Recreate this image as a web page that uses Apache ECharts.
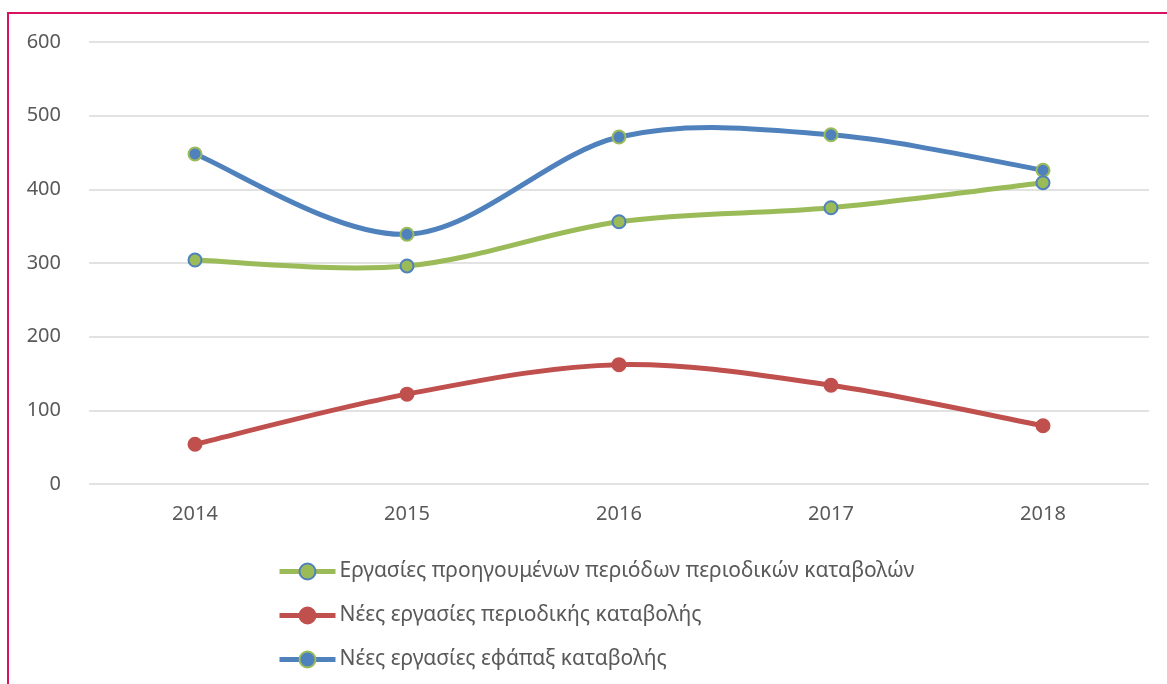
<!DOCTYPE html>
<html>
<head>
<meta charset="utf-8">
<script src="https://cdn.jsdelivr.net/npm/echarts@6/dist/echarts.min.js"></script>
<style>
html,body{margin:0;padding:0;background:#fff;overflow:hidden;}
#frame{position:absolute;left:7px;top:12px;width:1200px;height:720px;border:2px solid #D8125E;box-sizing:border-box;}
#chart{position:absolute;left:0;top:0;width:1167px;height:684px;}
</style>
</head>
<body>
<div id="frame"></div>
<div id="chart"></div>
<script>
const categories = ['2014', '2015', '2016', '2017', '2018'];
const seriesNames = [
  'Εργασίες προηγουμένων περιόδων περιοδικών καταβολών',
  'Νέες εργασίες περιοδικής καταβολής',
  'Νέες εργασίες εφάπαξ καταβολής'
];
const previousPeriods = [304, 296, 356, 375, 409];
const newPeriodic = [54, 122, 162, 134, 79];
const newLumpSum = [448, 339, 471, 474, 426];
const yTicks = [0, 100, 200, 300, 400, 500, 600];

const GREEN = '#9BBB59', RED = '#C0504D', BLUE = '#4F81BD';
const FONT = 'Noto Sans';
const chart = echarts.init(document.getElementById('chart'));

// Smooth curve (Excel-like Catmull-Rom Bezier) drawn through the chart's own scales
function curve(id, values, color) {
  return {
    id, name: id, type: 'custom', z: 2,
    data: values.map((v, i) => [i, v]),
    encode: { x: 0, y: 1 },
    silent: true,
    renderItem(params, api) {
      if (params.dataIndex !== 0) return null;
      const p = values.map((v, i) => api.coord([i, v]));
      const n = p.length;
      const P = (k) => p[Math.max(0, Math.min(n - 1, k))];
      let d = 'M' + p[0][0] + ' ' + p[0][1];
      for (let i = 0; i < n - 1; i++) {
        const a = P(i - 1), b = P(i), c = P(i + 1), e = P(i + 2);
        const c1 = [b[0] + (c[0] - a[0]) / 6, b[1] + (c[1] - a[1]) / 6];
        const c2 = [c[0] - (e[0] - b[0]) / 6, c[1] - (e[1] - b[1]) / 6];
        d += ' C' + c1[0] + ' ' + c1[1] + ' ' + c2[0] + ' ' + c2[1] + ' ' + c[0] + ' ' + c[1];
      }
      return {
        type: 'path', shape: { pathData: d },
        style: { fill: null, stroke: color, lineWidth: 5, lineCap: 'round', lineJoin: 'round' }
      };
    }
  };
}
function markers(name, data, fill, border) {
  return {
    name, type: 'line', data, z: 3,
    symbol: 'circle', symbolSize: 13,
    lineStyle: { width: 0, opacity: 0 },
    itemStyle: { color: fill, borderColor: border, borderWidth: 2 },
    emphasis: { disabled: true }
  };
}
chart.setOption({
  animation: false,
  grid: { left: 89, right: 18, top: 42, bottom: 200, containLabel: false },
  xAxis: {
    type: 'category', data: categories, boundaryGap: true,
    axisLine: { show: false }, axisTick: { show: false },
    axisLabel: { color: '#595959', fontSize: 20, fontFamily: FONT, margin: 20 }
  },
  yAxis: {
    type: 'value', min: yTicks[0], max: yTicks[yTicks.length - 1], interval: 100,
    axisLine: { show: false }, axisTick: { show: false },
    axisLabel: { color: '#595959', fontSize: 20, fontFamily: FONT, margin: 28 },
    splitLine: { lineStyle: { color: '#D9D9D9', width: 1.5 } }
  },
  legend: {
    orient: 'vertical', left: 272, top: 556,
    itemWidth: 56, itemHeight: 20, itemGap: 23,
    textStyle: { color: '#595959', fontSize: 21, fontFamily: FONT, padding: [0, 0, 0, -1] },
    data: [
      { name: seriesNames[0], lineStyle: { color: GREEN, width: 5, opacity: 1 } },
      { name: seriesNames[1], lineStyle: { color: RED, width: 5, opacity: 1 } },
      { name: seriesNames[2], lineStyle: { color: BLUE, width: 5, opacity: 1 } }
    ]
  },
  series: [
    curve('c0', previousPeriods, GREEN),
    curve('c1', newPeriodic, RED),
    curve('c2', newLumpSum, BLUE),
    markers(seriesNames[1], newPeriodic, RED, RED),
    markers(seriesNames[2], newLumpSum, BLUE, GREEN),
    markers(seriesNames[0], previousPeriods, GREEN, BLUE)
  ]
});
</script>
</body>
</html>
